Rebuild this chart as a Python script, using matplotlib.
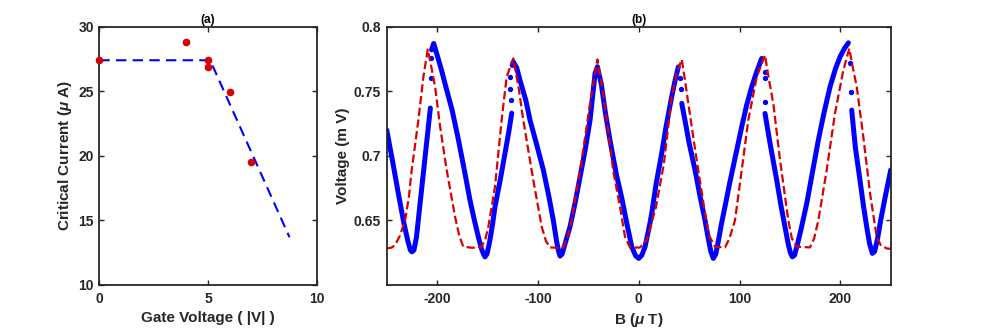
import numpy as np
import matplotlib.pyplot as plt

plt.rcParams['font.family'] = ['Liberation Sans', 'DejaVu Sans']
plt.rcParams['font.weight'] = 'bold'
plt.rcParams['axes.labelweight'] = 'bold'
plt.rcParams['axes.unicode_minus'] = False
plt.rcParams['mathtext.fontset'] = 'custom'
plt.rcParams['mathtext.it'] = 'Liberation Sans:italic:bold'
plt.rcParams['mathtext.rm'] = 'Liberation Sans:bold'

# (a) critical current vs gate voltage
gate_v = [0, 4, 5, 5, 6, 7]
crit_i = [27.4, 28.85, 27.4, 26.9, 24.95, 19.55]
fit_v = [0, 5.1, 8.75]
fit_i = [27.4, 27.4, 13.7]

# (b) voltage vs field, measured (blue) -- NaN marks the gaps near the peaks
b_meas = [-250, -244, -238.5, -233, -229, -226.5, -225, -223, -220.5, -218, -215.3,
          -212.5, -210.3, -206.7, np.nan,
          -205.5, -203.4, -199, -195, -192.2, -185, -179, -173, -167.4, -163, -159.1,
          -156, -153.5, -152.5, -150.5, -148, -145, -142.6, -137, -132.6, -129, -126,
          np.nan,
          -125.5, -124.4, -121, -117.8, -112, -107.8, -101, -94.6, -89, -84.7, -81.5,
          -79.5, -78, -76, -73, -68.2, -63, -58.2, -53, -48.3, -43.3, -41, -37, -33,
          -28.5, -22, -17, -11.9, -6.9, -3, 0, 3, 6.3, 11.2, 12.9, 17, 22.8, 27, 32.7,
          36, 39.3, np.nan,
          42.7, 46, 50, 55.9, 61, 65.8, 69, 71.5, 74, 76.5, 79, 82, 85.6, 90, 96, 102.2,
          107, 112.1, 117, 122, np.nan,
          125.3, 130, 136.9, 141, 145.1, 148.5, 150.5, 152.4, 154.5, 157, 161, 166.7,
          172, 178.2, 184, 189.8, 195, 199.7, 204, 208, np.nan,
          211.3, 215, 219.5, 223, 226.2, 229, 231.8, 234, 237, 240, 245, 250]
v_meas = [0.720, 0.695, 0.671, 0.648, 0.634, 0.627, 0.6257, 0.627, 0.637, 0.655, 0.675,
          0.695, 0.710, 0.737, np.nan,
          0.782, 0.787, 0.7755, 0.7645, 0.756, 0.735, 0.713, 0.689, 0.6657, 0.650, 0.6373,
          0.628, 0.623, 0.6218, 0.624, 0.633, 0.647, 0.6605, 0.683, 0.702, 0.718, 0.733,
          np.nan,
          0.770, 0.7728, 0.768, 0.7586, 0.743, 0.7276, 0.708, 0.689, 0.668, 0.650, 0.634,
          0.626, 0.6224, 0.624, 0.632, 0.645, 0.664, 0.6838, 0.705, 0.7276, 0.7638, 0.769,
          0.755, 0.733, 0.712, 0.685, 0.668, 0.648, 0.6296, 0.6225, 0.6206, 0.623, 0.6296,
          0.648, 0.6554, 0.677, 0.7019, 0.722, 0.7457, 0.758, 0.7689, np.nan,
          0.7406, 0.727, 0.710, 0.6889, 0.668, 0.650, 0.636, 0.626, 0.6206, 0.624, 0.634,
          0.647, 0.6607, 0.678, 0.700, 0.7225, 0.739, 0.7534, 0.765, 0.7754, np.nan,
          0.7328, 0.711, 0.6812, 0.662, 0.645, 0.631, 0.625, 0.6218, 0.623, 0.630, 0.643,
          0.6632, 0.686, 0.7122, 0.734, 0.7534, 0.767, 0.7766, 0.783, 0.7875, np.nan,
          0.7354, 0.706, 0.6812, 0.661, 0.645, 0.632, 0.6245, 0.626, 0.636, 0.650, 0.670,
          0.689]
# isolated points inside the gaps
b_dots = [-206.1, -206.3, -127.5, -127.3, -127.0, 41.0, 41.5, 125.0, 125.0, 125.0, 209.6, 210.3]
v_dots = [0.776, 0.760, 0.761, 0.752, 0.743, 0.760, 0.752, 0.765, 0.760, 0.742, 0.7715, 0.7495]

# model (red dashed)
b_model = [-250, -245, -241.8, -237, -231.8, -228, -225.2, -218.6, -213.6, -209.3, -206,
           -202, -197, -190.5, -182.2, -178, -174, -165, -155.8, -152, -149.2, -142.6,
           -136, -131, -124.4, -119, -114.5, -104.6, -96.2, -92, -88, -80, -75, -71,
           -66.5, -56.5, -48.3, -41, -36, -31.7, -25.2, -18.6, -13.6, -8.6, 1.3, 7.9,
           17, 25, 32.7, 38, 42.7, 46, 49.2, 57.5, 65.8, 70, 75.7, 85.6, 90, 95.5,
           102.2, 108.7, 117.1, 125.3, 129, 133.5, 140.2, 148.4, 152, 156.7, 169.9,
           174, 178.2, 186.5, 194.7, 203, 208.9, 212, 216.3, 222.8, 229.5, 236.1, 240,
           246, 250]
v_model = [0.6283, 0.6290, 0.6309, 0.638, 0.650, 0.668, 0.689, 0.7276, 0.7612, 0.7823,
           0.770, 0.7534, 0.7225, 0.689, 0.6528, 0.638, 0.6296, 0.6288, 0.6296, 0.636,
           0.645, 0.676, 0.7276, 0.7612, 0.7754, 0.752, 0.7276, 0.6812, 0.645, 0.634,
           0.6291, 0.6288, 0.6291, 0.636, 0.650, 0.6967, 0.7406, 0.7746, 0.752, 0.7276,
           0.688, 0.6605, 0.6373, 0.629, 0.629, 0.6348, 0.660, 0.694, 0.7457, 0.765,
           0.7746, 0.758, 0.7406, 0.6967, 0.6554, 0.638, 0.6296, 0.6291, 0.636, 0.650,
           0.689, 0.7276, 0.7612, 0.778, 0.760, 0.7406, 0.6967, 0.650, 0.636, 0.6296,
           0.6291, 0.636, 0.650, 0.689, 0.7328, 0.7663, 0.7831, 0.770, 0.7534, 0.7148,
           0.6709, 0.6373, 0.631, 0.6283, 0.628]

red = '#D80000'
axis_col = '#262626'

fig = plt.figure(figsize=(9.84, 3.36), dpi=100)
ax1 = fig.add_axes([0.1009, 0.1518, 0.2209, 0.7688])
ax2 = fig.add_axes([0.393, 0.1518, 0.5122, 0.7688])

ax1.plot(fit_v, fit_i, '--', color='blue', lw=1.5, dashes=(5, 3))
ax1.plot(gate_v, crit_i, 'o', color=red, ms=4.5, clip_on=False, zorder=3)
ax1.set_xlim(0, 10)
ax1.set_ylim(10, 30)
ax1.set_xticks([0, 5, 10])
ax1.set_yticks([10, 15, 20, 25, 30])
ax1.set_xlabel('Gate Voltage ( |V| )', fontsize=11, labelpad=4)
ax1.set_ylabel(r'Critical Current ($\mu$ A)', fontsize=11, labelpad=3)
ax1.set_title('(a)', fontsize=8.5, fontweight='bold', pad=3)

ax2.plot(b_meas, v_meas, '-', color='blue', lw=3.6, solid_capstyle='round',
         solid_joinstyle='round')
ax2.plot(b_dots, v_dots, 'o', color='blue', ms=2.8)
ax2.plot(b_model, v_model, '--', color=red, lw=1.6)
ax2.set_xlim(-250, 250)
ax2.set_ylim(0.6, 0.8)
ax2.set_xticks([-200, -100, 0, 100, 200])
ax2.set_yticks([0.65, 0.7, 0.75, 0.8])
ax2.set_yticklabels(['0.65', '0.7', '0.75', '0.8'])
ax2.set_xlabel(r'B ($\mu$ T)', fontsize=11, labelpad=4)
ax2.set_ylabel('Voltage (m V)', fontsize=11, labelpad=3)
ax2.set_title('(b)', fontsize=8.5, fontweight='bold', pad=3)

for ax in (ax1, ax2):
    for s in ax.spines.values():
        s.set_color(axis_col)
        s.set_linewidth(1.3)
    ax.tick_params(direction='in', top=True, right=True, length=3.5, width=1.0,
                   color=axis_col, labelcolor=axis_col, labelsize=10)
    ax.tick_params(axis='x', pad=5)
    ax.tick_params(axis='y', pad=4)
    for lab in ax.get_xticklabels() + ax.get_yticklabels():
        lab.set_fontweight('bold')
    ax.xaxis.label.set_color(axis_col)
    ax.yaxis.label.set_color(axis_col)

fig.savefig('out.png', dpi=100)
